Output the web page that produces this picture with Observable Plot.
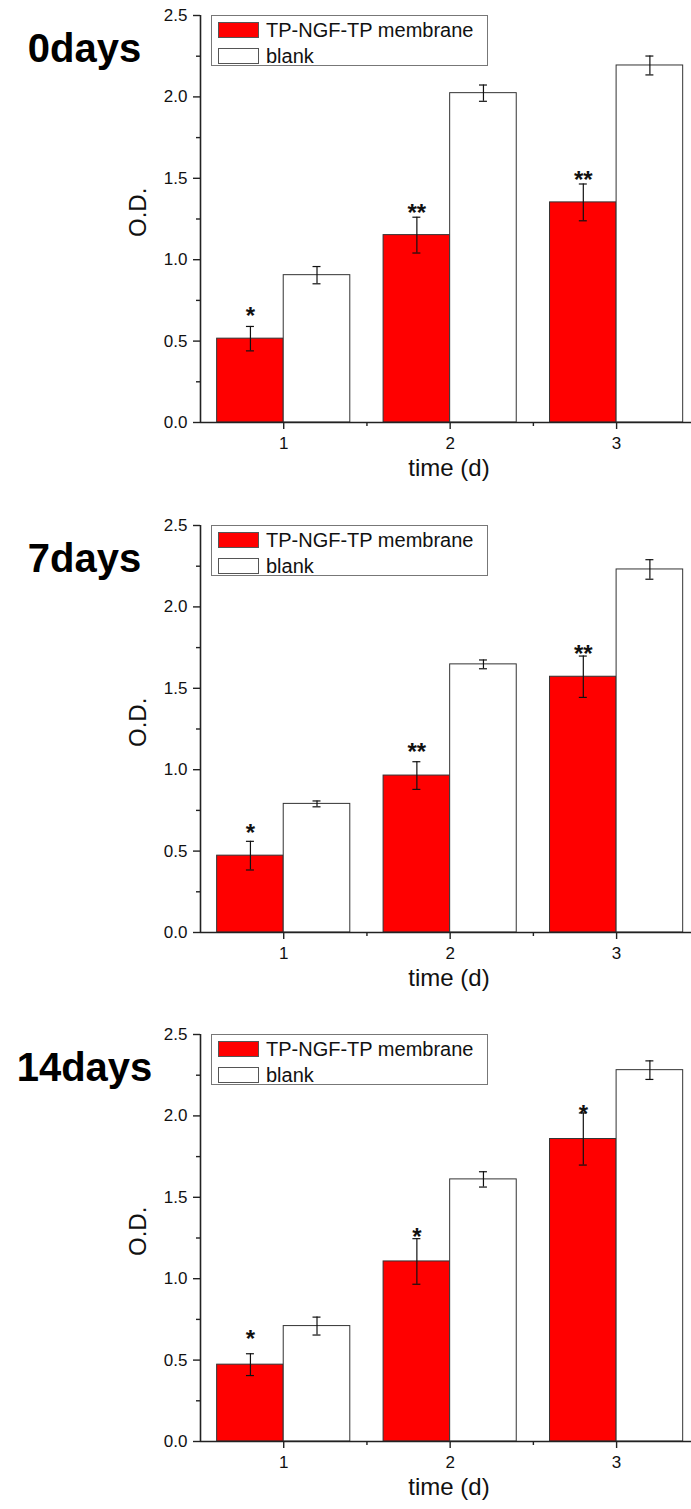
<!DOCTYPE html>
<html>
<head>
<meta charset="utf-8">
<script src="https://cdn.jsdelivr.net/npm/d3@7"></script>
<script src="https://cdn.jsdelivr.net/npm/@observablehq/plot@0.6"></script>
<style>
  html, body { margin: 0; padding: 0; background: #fff; }
  body { width: 691px; height: 1509px; position: relative; overflow: hidden; font-family: "Liberation Sans", Arial, sans-serif; }
  .panel { position: absolute; left: 0; width: 691px; height: 509px; }
  .legend { position: absolute; left: 211px; top: 15px; width: 277px; height: 51px; border: 1px solid #777; background: #fff; box-sizing: border-box; }
  .sw { position: absolute; left: 6px; width: 41px; height: 16px; border: 1px solid #555; box-sizing: border-box; }
  .lt { position: absolute; left: 54px; font-size: 20px; line-height: 20px; color: #111; white-space: nowrap; }
</style>
</head>
<body>
<script>
// ---- data ----
const panelTitles = ["0days", "7days", "14days"];
const times = [1, 2, 3];
const seriesNames = ["TP-NGF-TP membrane", "blank"];
const ngfMean  = [[0.515, 1.151, 1.352], [0.472, 0.964, 1.571], [0.472, 1.106, 1.858]];
const ngfErr   = [[0.075, 0.110, 0.113], [0.088, 0.085, 0.127], [0.067, 0.140, 0.160]];
const blankMean = [[0.905, 2.023, 2.193], [0.790, 1.647, 2.230], [0.709, 1.610, 2.281]];
const blankErr  = [[0.053, 0.050, 0.058], [0.018, 0.027, 0.060], [0.055, 0.047, 0.057]];
const starLabels = [["*", "**", "**"], ["*", "**", "**"], ["*", "*", "*"]];
const starLevel  = [[0.689, 1.319, 1.524], [0.648, 1.145, 1.746], [0.663, 1.294, 2.047]];
const yMajorTicks = [0, 0.5, 1.0, 1.5, 2.0, 2.5];
const yMinorTicks = [0.25, 0.75, 1.25, 1.75, 2.25];
const xMinorTicks = [1.5, 2.5];
const xLabel = "time (d)";
const yLabel = "O.D.";

const panelTops = [0, 510, 1019];
const barW = 0.4;
const capHalf = 0.024;
const font = "'Liberation Sans', Arial, sans-serif";

panelTitles.forEach((title, p) => {
  const rows = [];
  times.forEach((t, i) => {
    rows.push({t, s: seriesNames[0], v: ngfMean[p][i], e: ngfErr[p][i], x1: t - barW, x2: t});
    rows.push({t, s: seriesNames[1], v: blankMean[p][i], e: blankErr[p][i], x1: t, x2: t + barW});
  });
  const stars = times.map((t, i) => ({t, x: t - barW / 2, y: starLevel[p][i], s: starLabels[p][i]}));
  const xc = d => (d.x1 + d.x2) / 2;

  const chart = Plot.plot({
    width: 691,
    height: 509,
    marginLeft: 200,
    marginRight: 0,
    marginTop: 15,
    marginBottom: 87,
    style: {fontFamily: font, background: "transparent", overflow: "visible", color: "#111"},
    x: {domain: [0.5, 3.45]},
    y: {domain: [0, 2.5]},
    color: {domain: seriesNames, range: ["#ff0000", "#ffffff"]},
    marks: [
      Plot.rectY(rows, {x1: "x1", x2: "x2", y1: 0, y2: "v", fill: "s", stroke: "#333", strokeWidth: 1}),
      Plot.ruleX(rows, {x: xc, y1: d => d.v - d.e, y2: d => d.v + d.e, stroke: "#111", strokeWidth: 1.2}),
      Plot.ruleY(rows, {y: d => d.v + d.e, x1: d => xc(d) - capHalf, x2: d => xc(d) + capHalf, stroke: "#111", strokeWidth: 1.2}),
      Plot.ruleY(rows, {y: d => d.v - d.e, x1: d => xc(d) - capHalf, x2: d => xc(d) + capHalf, stroke: "#111", strokeWidth: 1.2}),
      Plot.text(stars, {x: "x", y: "y", text: "s", fontSize: 24, fontWeight: "bold", dy: 6, fill: "#111"}),
      Plot.ruleX([0.5], {y1: 0, y2: 2.5, stroke: "#222", strokeWidth: 1.6}),
      Plot.ruleY([0], {stroke: "#222", strokeWidth: 1.6}),
      Plot.axisY({ticks: yMajorTicks, tickFormat: ".1f", tickSize: 7, tickPadding: 6, fontSize: 17, label: null, stroke: "#222", strokeWidth: 1.4}),
      Plot.axisY({ticks: yMinorTicks, tickFormat: () => "", tickSize: 4, label: null, stroke: "#222", strokeWidth: 1.4}),
      Plot.axisX({ticks: times, tickFormat: d => String(d), tickSize: 7, tickPadding: 7, fontSize: 17, label: null, stroke: "#222", strokeWidth: 1.4}),
      Plot.axisX({ticks: xMinorTicks, tickFormat: () => "", tickSize: 4, label: null, stroke: "#222", strokeWidth: 1.4}),
      Plot.text([yLabel], {text: d => d, frameAnchor: "left", rotate: -90, dx: -62, dy: 18, fontSize: 24, fill: "#111"}),
      Plot.text([xLabel], {text: d => d, frameAnchor: "bottom", dx: 3, dy: 53, fontSize: 24, fill: "#111"}),
      Plot.text([title], {text: d => d, frameAnchor: "top-left", textAnchor: "middle", dx: -116, dy: 46, lineAnchor: "bottom", fontSize: 40, fontWeight: "bold", fill: "#000"})
    ]
  });

  const panel = document.createElement("div");
  panel.className = "panel";
  panel.style.top = panelTops[p] + "px";
  panel.appendChild(chart);

  const legend = document.createElement("div");
  legend.className = "legend";
  const colors = ["#ff0000", "#ffffff"];
  seriesNames.forEach((name, k) => {
    const sw = document.createElement("div");
    sw.className = "sw";
    sw.style.top = (6 + k * 26) + "px";
    sw.style.background = colors[k];
    legend.appendChild(sw);
    const lt = document.createElement("div");
    lt.className = "lt";
    lt.style.top = (4 + k * 26) + "px";
    lt.textContent = name;
    legend.appendChild(lt);
  });
  panel.appendChild(legend);
  document.body.appendChild(panel);
});
</script>
</body>
</html>
